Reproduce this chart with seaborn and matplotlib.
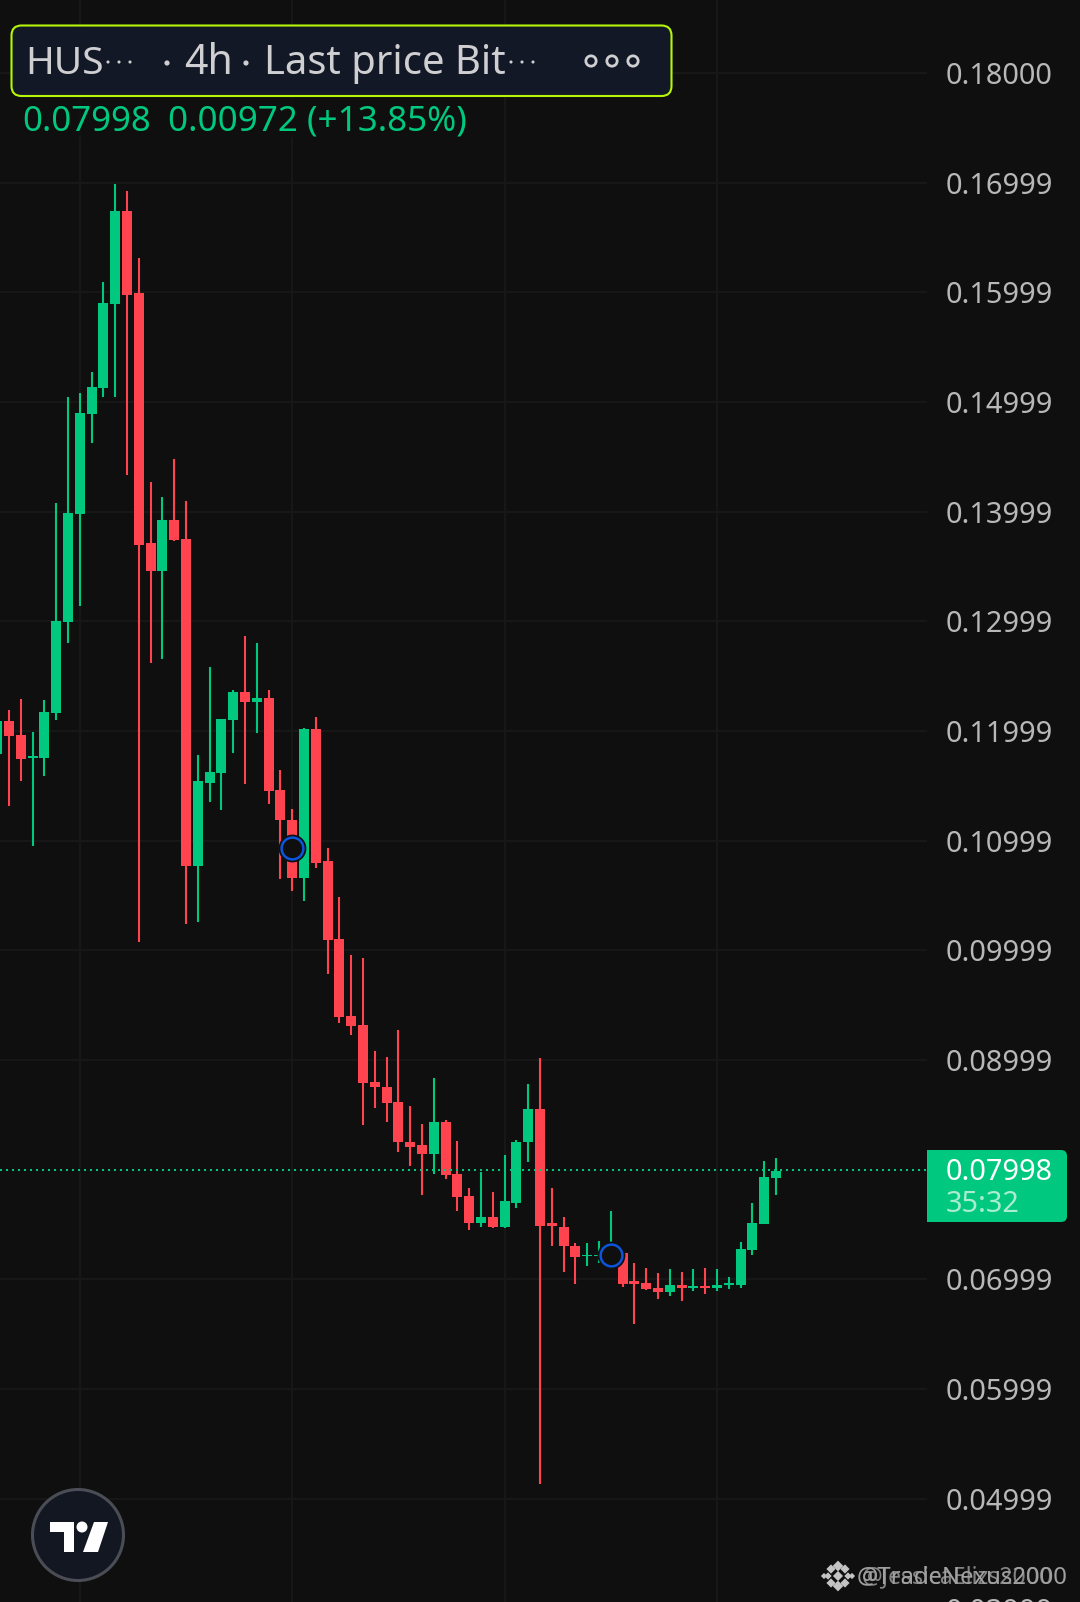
import matplotlib
matplotlib.use("Agg")
import matplotlib.pyplot as plt
import matplotlib.patches as patches
import numpy as np
import pandas as pd
import seaborn as sns

# 4h candles
opens = [.1179, .1209, .1196, .1175, .1175, .1216, .1299, .1398, .1489, .1513, .1589, .1674, .1599, .1371,
         .1346, .1392, .1375, .1077, .1153, .1162, .1210, .1236, .1226, .1230, .1146, .1119, .1066, .1202,
         .1081, .1010, .0940, .0932, .0880, .0875, .0862, .0825, .0822, .0814, .0843, .0796, .0776, .0751,
         .0757, .0748, .0770, .0825, .0855, .0751, .0748, .0730, .0721, .0721, .0722, .0724, .0698, .0697,
         .0692, .0688, .0695, .0692, .0694, .0692, .0695, .0695, .0727, .0750, .0792]
closes = [.1209, .1195, .1174, .1177, .1217, .1300, .1399, .1490, .1514, .1590, .1674, .1598, .1370, .1346,
          .1392, .1374, .1077, .1154, .1163, .1211, .1236, .1226, .1230, .1145, .1119, .1066, .1202, .1080,
          .1009, .0939, .0931, .0879, .0875, .0861, .0825, .0821, .0814, .0843, .0795, .0775, .0751, .0757,
          .0748, .0771, .0825, .0855, .0749, .0749, .0730, .0720, .0722, .0722, .0724, .0696, .0696, .0691,
          .0688, .0695, .0692, .0694, .0692, .0695, .0697, .0728, .0751, .0793, .0799]
highs = [.1209, .1219, .1229, .1199, .1228, .1408, .1505, .1508, .1527, .1609, .1699, .1692, .1631, .1427,
         .1413, .1448, .1410, .1178, .1258, .1211, .1237, .1287, .1280, .1237, .1164, .1129, .1203, .1213,
         .1093, .1049, .0996, .0993, .0908, .0903, .0927, .0858, .0842, .0884, .0845, .0826, .0783, .0798,
         .0780, .0813, .0827, .0878, .0902, .0783, .0757, .0733, .0733, .0735, .0762, .0724, .0715, .0710,
         .0706, .0709, .0707, .0709, .0710, .0709, .0702, .0734, .0770, .0808, .0811]
lows = [.1179, .1132, .1154, .1095, .1159, .1210, .1280, .1314, .1463, .1505, .1505, .1433, .1008, .1262,
        .1266, .1373, .1024, .1026, .1135, .1128, .1180, .1152, .1198, .1133, .1065, .1054, .1045, .1075,
        .0978, .0934, .0923, .0841, .0856, .0843, .0816, .0803, .0777, .0796, .0791, .0762, .0745, .0748,
        .0747, .0747, .0765, .0807, .0513, .0730, .0707, .0696, .0712, .0715, .0717, .0693, .0659, .0690,
        .0682, .0685, .0680, .0689, .0687, .0689, .0691, .0692, .0722, .0750, .0777]

price_ticks = [.18, .17, .16, .15, .14, .13, .12, .11, .10, .09, .07, .06, .05]
price_labels = ["0.18000", "0.16999", "0.15999", "0.14999", "0.13999", "0.12999", "0.11999",
                "0.10999", "0.09999", "0.08999", "0.06999", "0.05999", "0.04999"]
time_ticks = [7, 25, 43, 61]
last_price = 0.07998
marker_bars = [25, 52]
marker_prices = [.1093, .0722]

BG = "#0f0f0f"
GRID = "#171717"
GREEN = "#00c97f"
RED = "#ff4450"
LABEL = "#b8b8b8"
FONT = ["Noto Sans", "DejaVu Sans"]

sns.set_theme(style="darkgrid", rc={"axes.facecolor": BG, "figure.facecolor": BG, "grid.color": GRID,
                                    "grid.linewidth": 1.5})
plt.rcParams["font.family"] = FONT

df = pd.DataFrame({"bar": np.arange(len(opens)), "open": opens, "close": closes, "high": highs, "low": lows})
df["bottom"] = df[["open", "close"]].min(axis=1)
df["body"] = (df["close"] - df["open"]).abs()
up = df[df["close"] >= df["open"]]
down = df[df["close"] < df["open"]]

fig = plt.figure(figsize=(10.8, 16.02), dpi=100)
ax = fig.add_axes([0, 0, 927 / 1080, 1])

for part, color in [(up, GREEN), (down, RED)]:
    ax.vlines(part["bar"], part["low"], part["high"], color=color, linewidth=1.5, zorder=2)
    sns.barplot(data=part, x="bar", y="body", bottom=part["bottom"].values, native_scale=True, color=color,
                saturation=1, width=0.85, linewidth=0, zorder=3, ax=ax)

ax.axhline(last_price, color=GREEN, linewidth=1.44, linestyle=(0, (1, 2)), zorder=4)

# trade markers
ax.scatter(marker_bars, marker_prices, s=400, color=BG, linewidths=0, zorder=5)
ax.scatter(marker_bars, marker_prices, s=245, facecolor=BG, edgecolor="#0b54dc", linewidths=1.8, zorder=6)

ax.set_xlim(0.237, 78.8)
ax.set_ylim(0.04057, 0.18666)
ax.set_xticks(time_ticks)
ax.set_yticks(price_ticks)
ax.set_yticklabels(price_labels)
ax.yaxis.tick_right()
ax.tick_params(axis="y", length=0, pad=13.5, labelsize=20.8, labelcolor=LABEL)
ax.tick_params(axis="x", length=0, labelbottom=False)
ax.set_xlabel("")
ax.set_ylabel("")
ax.grid(True)
ax.set_axisbelow(True)
sns.despine(ax=ax, left=True, bottom=True, right=True, top=True)

# header, badge and logos sit on a pixel overlay
ov = fig.add_axes([0, 0, 1, 1], facecolor="none")
ov.set_xlim(0, 1080)
ov.set_ylim(1602, 0)
ov.axis("off")

ov.add_patch(patches.Rectangle((0, 97), 480, 40, facecolor=BG, alpha=0.75, linewidth=0))
ov.add_patch(patches.FancyBboxPatch((21.5, 35.5), 640, 50.5, boxstyle="round,pad=10,rounding_size=10",
                                    facecolor="#131826", edgecolor="#b4f50a", linewidth=1.5))
HEAD = "#cfcfd2"
ov.text(25, 74.5, "HUS", color=HEAD, fontsize=28, va="baseline")
ov.text(184, 74.5, "4h", color=HEAD, fontsize=29.5, va="baseline")
ov.text(264, 74.5, "Last price Bit", color=HEAD, fontsize=28.8, va="baseline")
ov.scatter([108, 119, 130, 167, 246, 511, 522, 533], [62, 62, 62, 63, 63, 62, 62, 62],
           s=[5, 5, 5, 14, 14, 5, 5, 5], color=HEAD, linewidths=0)
ov.scatter([591, 612, 633], [61, 61, 61], s=55, facecolor="none", edgecolor=HEAD, linewidths=2)
ov.text(22.5, 122, "0.07998", color=GREEN, fontsize=25, va="center", ha="left")
ov.text(168, 122, "0.00972 (+13.85%)", color=GREEN, fontsize=25.2, va="center", ha="left")

ov.add_patch(patches.FancyBboxPatch((927, 1150), 140, 72, boxstyle="round,pad=0,rounding_size=6",
                                    facecolor=GREEN, linewidth=0))
ov.add_patch(patches.Rectangle((927, 1150), 20, 72, facecolor=GREEN, linewidth=0))
ov.text(946, 1172.5, "0.07998", color="white", fontsize=20.8, va="center", ha="left")
ov.text(946, 1204, "35:32", color="#a9ecd0", fontsize=20.8, va="center", ha="left")

ov.text(946, 1612, "0.03999", color=LABEL, fontsize=20.8, va="center", ha="left", clip_on=False)

# tradingview badge
ov.add_patch(patches.Circle((78, 1535), 45.5, facecolor="#131722", edgecolor="#4a4d55", linewidth=2.2))
ov.add_patch(patches.Polygon([(50, 1522), (74, 1522), (74, 1552), (64, 1552), (64, 1532), (50, 1532)],
                             facecolor="white", linewidth=0))
ov.add_patch(patches.Polygon([(94, 1522), (108, 1522), (98, 1552), (83, 1552)], facecolor="white", linewidth=0))
ov.add_patch(patches.Circle((82, 1527), 5.5, facecolor="white", linewidth=0))

# watermark, two names stamped over each other
ov.scatter([838, 828, 848, 838, 838, 838, 824, 852, 831, 845, 831, 845],
           [1576, 1576, 1576, 1566, 1586, 1576, 1576, 1576, 1569, 1569, 1583, 1583], marker="D",
           s=[24, 14, 14, 30, 30, 24, 10, 10, 22, 22, 22, 22], color="#c4c4c4", linewidths=0)
ov.text(857, 1577, "@TradeNexus2000", color="#a0a0a0", fontsize=17.2, va="center", ha="left")
ov.text(862, 1577, "@JessicaElizs2000", color="#a0a0a0", fontsize=16.6, va="center", ha="left", alpha=0.8)

fig.savefig("out.png", dpi=100, facecolor=BG)
